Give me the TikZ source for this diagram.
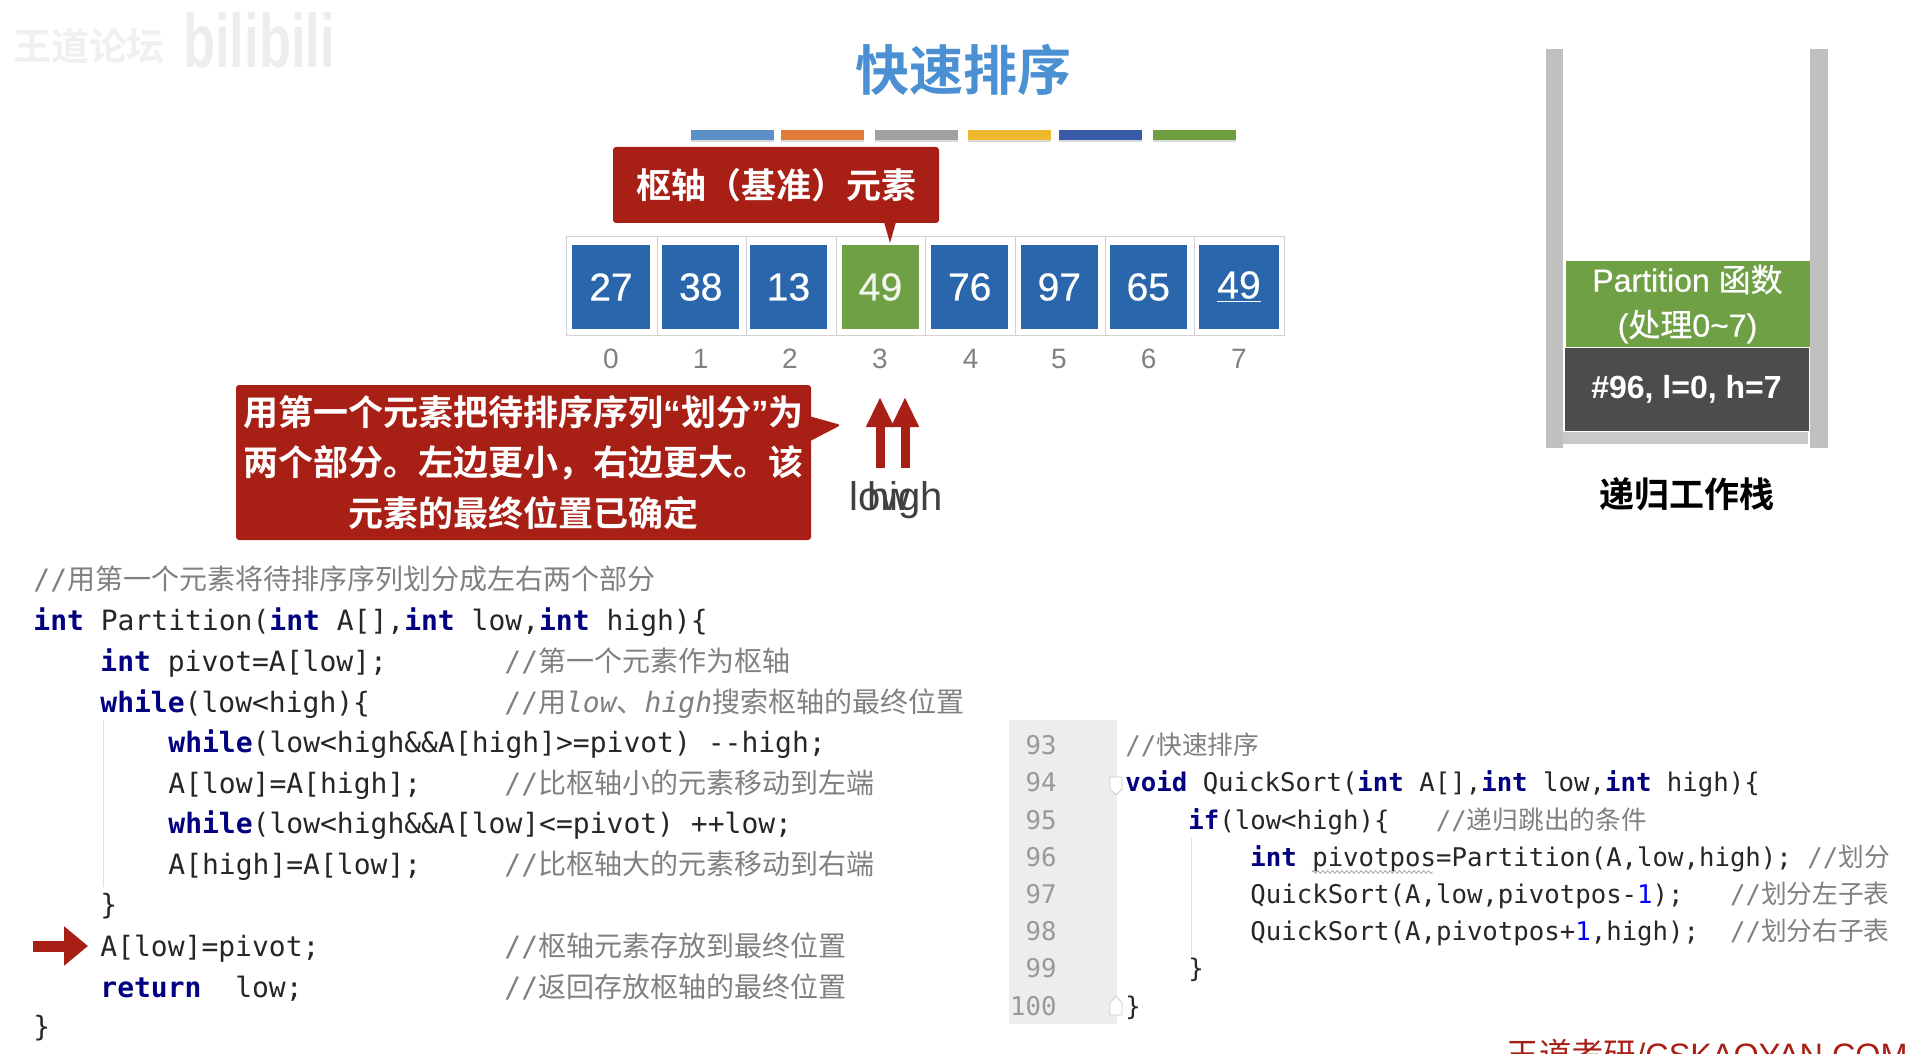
\documentclass[tikz,border=0pt]{standalone}
\usepackage{xcolor}
\usepackage{graphicx}
\usepackage{fontspec}
\setmainfont{Liberation Sans}
\setmonofont{DejaVu Sans Mono}
\newfontfamily\cjk[BoldFont={Noto Sans CJK SC Bold}]{Noto Sans CJK SC}
\newfontfamily\medsans[FakeBold=0.5]{Liberation Sans}
\newfontfamily\medcjk[FakeBold=0.5]{Noto Sans CJK SC}
\usetikzlibrary{arrows.meta,shapes.callouts,shadows,decorations.pathmorphing}
\definecolor{titleblue}{HTML}{4A90D2}
\definecolor{cellblue}{HTML}{2A66AB}
\definecolor{cellgreen}{HTML}{6FA045}
\definecolor{notered}{HTML}{A81F16}
\definecolor{kwnavy}{HTML}{000080}
\definecolor{cmtgray}{HTML}{808080}
\definecolor{wallgray}{HTML}{C0C0C0}
\definecolor{barblue}{HTML}{5B8FC8}
\definecolor{barorange}{HTML}{E07B39}
\definecolor{bargray}{HTML}{A0A0A0}
\definecolor{baryellow}{HTML}{EEB92F}
\definecolor{bardeep}{HTML}{3A5CA8}
\definecolor{bargreen}{HTML}{6E9E3F}
\newcommand{\kw}[1]{{\bfseries\color{kwnavy}#1}}
\newcommand{\cmt}[1]{{\color{cmtgray}//\cjk #1}}
\newcommand{\lit}[1]{{\color{blue}#1}}
\tikzset{
  colorbar/.style={
    fill=#1,
    minimum width=41.5pt,
    minimum height=5pt,
    inner sep=0pt,
    drop shadow={opacity=0.3,shadow xshift=0pt,shadow yshift=-1pt}
  },
  slotbox/.style={
    draw=black!18,
    line width=0.5pt,
    minimum height=49.5pt,
    inner sep=0pt
  },
  cellbox/.style={
    fill=cellblue,
    text=white,
    minimum width=38.7pt,
    minimum height=42pt,
    inner sep=0pt,
    font=\fontsize{19.5}{22}\selectfont\medsans
  },
  pivotbox/.style={
    cellbox,
    fill=cellgreen,
    text=white!90!cellgreen
  },
  indexlabel/.style={
    text=black!50,
    inner sep=0pt,
    font=\fontsize{14}{16}\selectfont
  },
  notebox/.style={
    fill=notered,
    text=white,
    rounded corners=1.5pt,
    inner sep=0pt,
    align=center,
    font=\bfseries\cjk
  },
  ptrarrow/.style={
    draw=notered,
    line width=4.5pt,
    -{Triangle[length=15pt,width=13pt]}
  },
  ptrlabel/.style={
    anchor=base,
    inner sep=0pt,
    text=black!75,
    font=\fontsize{20}{22}\selectfont
  },
  stackwall/.style={
    fill=wallgray,
    inner sep=0pt,
    minimum height=199.5pt
  },
  stackblock/.style={
    text=white,
    inner sep=0pt,
    align=center,
    minimum width=122pt
  },
  codeline/.style={
    anchor=base west,
    inner sep=0pt,
    text=black!85,
    font=\fontsize{14}{16}\selectfont\ttfamily
  },
  smallcode/.style={
    codeline,
    font=\fontsize{12.85}{15}\selectfont\ttfamily
  },
  linenum/.style={
    anchor=base east,
    inner sep=0pt,
    text=black!40,
    font=\fontsize{12.85}{15}\selectfont\ttfamily
  },
  guide/.style={draw=black!12, line width=0.5pt},
  foldmark/.style={draw=black!20, fill=white, line width=0.4pt},
  squiggle/.style={
    draw=black!35,
    line width=0.4pt,
    decorate,
    decoration={zigzag,amplitude=0.7pt,segment length=2.4pt}
  }
}
\begin{document}
\begin{tikzpicture}[x=0.5pt,y=-0.5pt]
  \useasboundingbox (0,0) rectangle (1924,1054);

  % watermark
  \node[text=black!6, inner sep=0pt, font=\fontsize{19}{21}\selectfont\bfseries\cjk] (mark) at (89,46) {王道论坛};
  \node[text=black!7, inner sep=0pt, font=\fontsize{38}{40}\selectfont\bfseries] (bili) at (259,40) {\scalebox{0.69}[1]{bilibili}};

  \node[text=titleblue, font=\fontsize{27}{30}\selectfont\bfseries\cjk] (title) at (963,70) {快速排序};

  \node[colorbar=barblue] (bar0) at (732.5,135) {};
  \node[colorbar=barorange] (bar1) at (822.5,135) {};
  \node[colorbar=bargray] (bar2) at (916,135) {};
  \node[colorbar=baryellow] (bar3) at (1009,135) {};
  \node[colorbar=bardeep] (bar4) at (1100.5,135) {};
  \node[colorbar=bargreen] (bar5) at (1194,135) {};

  % array
  \node[slotbox, minimum width=45.5pt] (s0) at (611.5,285.5) {};
  \node[slotbox, minimum width=44.75pt] (s1) at (701.75,285.5) {};
  \node[slotbox, minimum width=45pt] (s2) at (791.5,285.5) {};
  \node[slotbox, minimum width=44.55pt] (s3) at (881,285.5) {};
  \node[slotbox, minimum width=45pt] (s4) at (970.6,285.5) {};
  \node[slotbox, minimum width=44.7pt] (s5) at (1060.3,285.5) {};
  \node[slotbox, minimum width=44.85pt] (s6) at (1149.85,285.5) {};
  \node[slotbox, minimum width=44.65pt] (s7) at (1239.35,285.5) {};

  \node[cellbox] (c0) at (611,287) {27};
  \node[cellbox] (c1) at (700.7,287) {38};
  \node[cellbox] (c2) at (788.5,287) {13};
  \node[pivotbox] (c3) at (880.5,287) {49};
  \node[cellbox] (c4) at (969.7,287) {76};
  \node[cellbox] (c5) at (1059.3,287) {97};
  \node[cellbox] (c6) at (1148.3,287) {65};
  \node[cellbox, minimum width=40pt] (c7) at (1239,287) {\underline{49}};

  \node[indexlabel] (i0) at (611,359) {0};
  \node[indexlabel] (i1) at (700.6,359) {1};
  \node[indexlabel] (i2) at (790,359) {2};
  \node[indexlabel] (i3) at (880,359) {3};
  \node[indexlabel] (i4) at (970.6,359) {4};
  \node[indexlabel] (i5) at (1059,359) {5};
  \node[indexlabel] (i6) at (1148.6,359) {6};
  \node[indexlabel] (i7) at (1239,359) {7};

  % notes
  \node[notebox, minimum width=163pt, minimum height=38pt,
        font=\fontsize{17.5}{21}\selectfont\bfseries\cjk] (pivotnote) at (776,185) {枢轴（基准）元素};
  \coordinate (pivottip) at (890,243);
  \fill[notered] (pivottip) -- (884,222) -- (896,222) -- cycle;
  \node[notebox, rectangle callout, minimum width=287.5pt, minimum height=77.5pt, callout absolute pointer={(841,425)}, callout pointer width=12pt,
        font=\fontsize{17.5}{25.25}\selectfont\bfseries\cjk] (partnote) at (523.5,462.5)
        {用第一个元素把待排序序列{\rmfamily“}划分{\rmfamily”}为\\两个部分。左边更小，右边更大。该\\元素的最终位置已确定};

  % low / high pointers
  \coordinate (lowfoot) at (880,468);
  \coordinate (lowtip) at (880,397);
  \coordinate (highfoot) at (905,468);
  \coordinate (hightip) at (905,397);
  \draw[ptrarrow] (lowfoot) -- (lowtip);
  \draw[ptrarrow] (highfoot) -- (hightip);
  \node[ptrlabel] (low) at (880,510) {low};
  \node[ptrlabel] (high) at (905,510) {high};

  % stack
  \node[stackwall, minimum width=8.5pt] (wallL) at (1554.5,248.5) {};
  \node[stackwall, minimum width=9pt] (wallR) at (1819,248.5) {};
  \node[fill=wallgray!85!white, inner sep=0pt, minimum width=122.5pt, minimum height=6pt] (floor) at (1685.5,438) {};
  \node[stackblock, fill=cellgreen, minimum height=43pt,
        font=\fontsize{16}{22.5}\selectfont\medsans] (frame1) at (1687.5,304) {\raisebox{-1.5pt}{Partition {\medcjk 函数}}\\\raisebox{-1.5pt}{({\medcjk 处理}0\textasciitilde 7)}};
  \node[stackblock, fill=black!70!white, minimum height=41.5pt,
        font=\fontsize{16}{18}\selectfont\bfseries] (frame0) at (1686.5,389.5) {\raisebox{-0.5pt}{\#96, l=0, h=7}};
  \node[inner sep=0pt, font=\fontsize{17.5}{20}\selectfont\bfseries\cjk] (stackname) at (1687,494) {递归工作栈};

  % partition code
  \node[codeline] (p0) at (33,589) {\cmt{用第一个元素将待排序序列划分成左右两个部分}};
  \node[codeline] (p1) at (33,630) {\kw{int} Partition(\kw{int} A[],\kw{int} low,\kw{int} high)\{};
  \node[codeline] (p2) at (100,671) {\kw{int} pivot=A[low];};
  \node[codeline] (p3) at (100,712) {\kw{while}(low<high)\{};
  \node[codeline] (p4) at (168,752) {\kw{while}(low<high\&\&A[high]>=pivot) {-}{-}high;};
  \node[codeline] (p5) at (168,793) {A[low]=A[high];};
  \node[codeline] (p6) at (168,833) {\kw{while}(low<high\&\&A[low]<=pivot) {+}{+}low;};
  \node[codeline] (p7) at (168,874) {A[high]=A[low];};
  \node[codeline] (p8) at (100,914) {\}};
  \node[codeline] (p9) at (100,956) {A[low]=pivot;};
  \node[codeline] (p10) at (100,997) {\kw{return}\ \ low;};
  \node[codeline] (p11) at (33,1036) {\}};

  \node[codeline] (n2) at (504,671) {\cmt{第一个元素作为枢轴}};
  \node[codeline] (n3) at (504,712) {\cmt{用{\ttfamily\itshape low}、{\ttfamily\itshape high}搜索枢轴的最终位置}};
  \node[codeline] (n5) at (504,793) {\cmt{比枢轴小的元素移动到左端}};
  \node[codeline] (n7) at (504,874) {\cmt{比枢轴大的元素移动到右端}};
  \node[codeline] (n9) at (504,956) {\cmt{枢轴元素存放到最终位置}};
  \node[codeline] (n10) at (504,997) {\cmt{返回存放枢轴的最终位置}};

  \coordinate (guideAtop) at (103,720);
  \coordinate (guideAend) at (103,887);
  \draw[guide] (guideAtop) -- (guideAend);

  \coordinate (marktail) at (33,946);
  \coordinate (markhead) at (88,946);
  \draw[draw=notered, line width=5.5pt, -{Triangle[length=12pt,width=19pt]}] (marktail) -- (markhead);

  % quicksort code
  \node[fill=black!7, inner sep=0pt, minimum width=54pt, minimum height=152pt] (gutter) at (1063,872) {};
  \node[linenum] (l93) at (1057,754) {93};
  \node[linenum] (l94) at (1057,791) {94};
  \node[linenum] (l95) at (1057,829) {95};
  \node[linenum] (l96) at (1057,866) {96};
  \node[linenum] (l97) at (1057,903) {97};
  \node[linenum] (l98) at (1057,940) {98};
  \node[linenum] (l99) at (1057,977) {99};
  \node[linenum] (l100) at (1057,1015) {100};

  \draw[foldmark] (1110,777) -- (1122,777) -- (1122,789) -- (1116,795) -- (1110,789) -- cycle;
  \draw[foldmark] (1110,1015) -- (1122,1015) -- (1122,1003) -- (1116,996) -- (1110,1003) -- cycle;

  \node[smallcode] (q0) at (1125,754) {\cmt{快速排序}};
  \node[smallcode] (q1) at (1125,791) {\kw{void} QuickSort(\kw{int} A[],\kw{int} low,\kw{int} high)\{};
  \node[smallcode] (q2) at (1188,829) {\kw{if}(low<high)\{\ \ \ \cmt{递归跳出的条件}};
  \node[smallcode] (q3) at (1250,866) {\kw{int} pivotpos=Partition(A,low,high);\ \cmt{划分}};
  \node[smallcode] (q4) at (1250,903) {QuickSort(A,low,pivotpos-\lit{1});\ \ \ \cmt{划分左子表}};
  \node[smallcode] (q5) at (1250,940) {QuickSort(A,pivotpos+\lit{1},high);\ \ \cmt{划分右子表}};
  \node[smallcode] (q6) at (1188,977) {\}};
  \node[smallcode] (q7) at (1125,1015) {\}};

  \coordinate (guideBtop) at (1191,838);
  \coordinate (guideBend) at (1191,955);
  \draw[guide] (guideBtop) -- (guideBend);
  \coordinate (squigL) at (1312,872);
  \coordinate (squigR) at (1433,872);
  \draw[squiggle] (squigL) -- (squigR);

  % site name, cut by the lower edge
  \begin{scope}
    \clip (0,0) rectangle (1924,1054);
    \node[anchor=base east, inner sep=0pt, text=notered, font=\fontsize{16.2}{18}\selectfont] (site) at (1908,1066) {{\cjk 王道考研}/CSKAOYAN.COM};
  \end{scope}
\end{tikzpicture}
\end{document}
